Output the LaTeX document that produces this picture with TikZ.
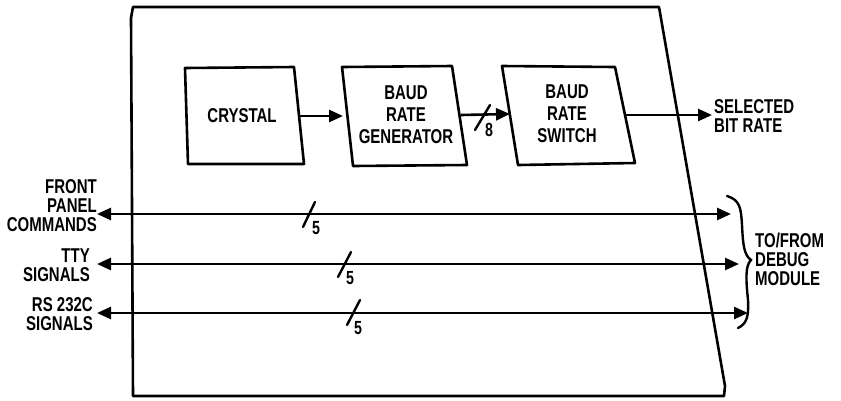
\documentclass[tikz,border=0pt]{standalone}
\usepackage{fontspec}
\setmainfont{Liberation Sans}[FakeStretch=0.75]
\usetikzlibrary{arrows.meta}
\begin{document}
\begin{tikzpicture}[x=1pt,y=-1pt,
  every node/.style={font=\fontsize{20}{19}\selectfont\bfseries,inner sep=0pt},
  edge/.style={line width=2.6pt,line join=round,line cap=round},
  bus/.style={line width=2.6pt,{Triangle[length=14pt,width=12pt]}-{Triangle[length=14pt,width=12pt]}},
  sig/.style={line width=2.6pt,-{Triangle[length=14pt,width=12pt]}},
  slashln/.style={line width=2.4pt,line cap=round},
  lbl/.style={align=center,font=\fontsize{20}{22}\selectfont\bfseries},
  lblr/.style={align=right},
  lbll/.style={align=left},
  num/.style={font=\fontsize{19}{17}\selectfont\bfseries}]
\useasboundingbox (0,0) rectangle (841,400);
% outer module outline
\draw[edge] (131,18) -- (133,7) -- (659,7) -- (725,386) -- (724,396) -- (133,396) -- cycle;
% boxes
\draw[edge] (185,68) -- (294,67) -- (304,164) -- (188,164) -- cycle;
\node (cry) at (242,116) {CRYSTAL};
\draw[edge] (342,67) -- (452,66) -- (467,165) -- (353,166) -- cycle;
\node[lbl] (brg) at (406,115) {BAUD\\RATE\\GENERATOR};
\draw[edge] (502,66) -- (615,67) -- (635,163) -- (518,165) -- cycle;
\node[lbl] (brs) at (567,114) {BAUD\\RATE\\SWITCH};
\coordinate (c1) at (298,116);
\coordinate (c2) at (343,116);
\coordinate (c3) at (461,115);
\coordinate (c4) at (510,114);
\coordinate (c5) at (624,115);
\coordinate (c6) at (712,115);
\draw[sig] (c1) -- (c2);
\draw[sig] (c3) -- (c4);
\draw[sig] (c5) -- (c6);
\draw[slashln] (475,130) -- (490,105);
\node[num] (n8) at (489,130) {8};
\node[lbll,anchor=west] (sel) at (714,116) {SELECTED\\BIT RATE};
% buses
\coordinate (b1l) at (97,214);
\coordinate (b1r) at (731,214);
\coordinate (b2l) at (97,264);
\coordinate (b2r) at (739,264);
\coordinate (b3l) at (97,313);
\coordinate (b3r) at (748,313);
\draw[bus] (b1l) -- (b1r);
\draw[bus] (b2l) -- (b2r);
\draw[bus] (b3l) -- (b3r);
\draw[slashln] (303,227) -- (315,202);
\node[num] (n5a) at (316,228) {5};
\draw[slashln] (338,277) -- (351,252);
\node[num] (n5b) at (350,278) {5};
\draw[slashln] (347,325) -- (360,300);
\node[num] (n5c) at (358,328) {5};
\node[lblr,anchor=east] (fp) at (97,206) {FRONT\\PANEL\\COMMANDS};
\node[lblr,anchor=east] (tty) at (90,265) {TTY\\SIGNALS};
\node[lblr,anchor=east] (rs) at (93,314) {RS 232C\\SIGNALS};
% brace
\draw[line width=2.4pt,line cap=round] (727,196) .. controls (740,200) and (741,208) .. (742,225)
  .. controls (743,245) and (744,255) .. (751,260)
  .. controls (745,266) and (746,280) .. (748,300)
  .. controls (749,318) and (746,324) .. (738,328);
\node[lbll,anchor=west] (dbg) at (755,259) {TO/FROM\\DEBUG\\MODULE};
\end{tikzpicture}
\end{document}
